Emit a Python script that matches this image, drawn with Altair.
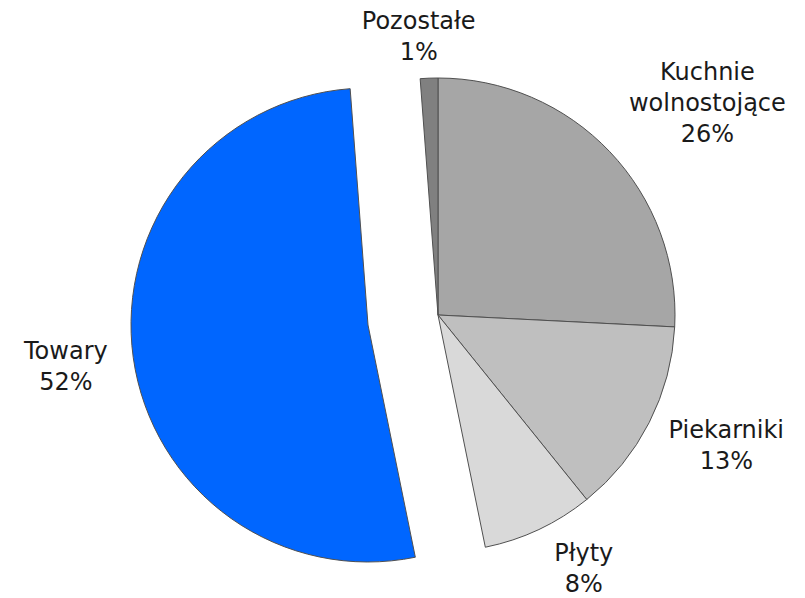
import altair as alt
import pandas as pd

categories = ["Kuchnie wolnostojące", "Piekarniki", "Płyty", "Towary", "Pozostałe"]
label_lines = [["Kuchnie", "wolnostojące", "26%"], ["Piekarniki", "13%"], ["Płyty", "8%"], ["Towary", "52%"], ["Pozostałe", "1%"]]
shares = [25.8, 13.4, 7.6, 52.0, 1.2]
colors = ["#a6a6a6", "#bfbfbf", "#d9d9d9", "#0066ff", "#808080"]

df = pd.DataFrame({
    "cat": categories,
    "value": shares,
    "idx": list(range(len(categories))),
    "label": label_lines,
})

CX, CY = 430, 307          # pie centre inside the plot area
R = 237                    # pie radius
EXPLODE = (-70, 10)        # offset of the exploded slice
EXPLODED = "Towary"
LABEL_R = 300
label_shift = {
    "Kuchnie wolnostojące": (52, -35),
    "Piekarniki": (21, -20),
    "Płyty": (18, -32),
    "Towary": (-5, -14),
    "Pozostałe": (-8, 7),
}

color_scale = alt.Scale(domain=categories, range=colors)

base = alt.Chart(df).encode(
    theta=alt.Theta("value:Q", stack=True),
    order=alt.Order("idx:Q"),
)

is_exp = f"datum.cat === '{EXPLODED}'"

arcs_main = base.mark_arc(radius=R, stroke="#505050", strokeWidth=1).encode(
    color=alt.Color("cat:N", scale=color_scale, legend=None),
    x=alt.value(CX), y=alt.value(CY),
    opacity=alt.condition(is_exp, alt.value(0), alt.value(1)),
)
arcs_exp = base.mark_arc(radius=R, stroke="#505050", strokeWidth=1).encode(
    color=alt.Color("cat:N", scale=color_scale, legend=None),
    x=alt.value(CX + EXPLODE[0]), y=alt.value(CY + EXPLODE[1]),
    opacity=alt.condition(is_exp, alt.value(1), alt.value(0)),
)

layers = [arcs_main, arcs_exp]
for c in categories:
    ox, oy = (EXPLODE if c == EXPLODED else (0, 0))
    sx, sy = label_shift[c]
    layers.append(
        base.mark_text(
            radius=LABEL_R, dx=sx, dy=sy,
            font="DejaVu Sans", fontSize=24, lineHeight=31,
            align="center", baseline="middle", color="#1a1a1a",
        ).encode(
            text="label",
            x=alt.value(CX + ox), y=alt.value(CY + oy),
            opacity=alt.condition(f"datum.cat === '{c}'", alt.value(1), alt.value(0)),
        )
    )

chart = alt.layer(*layers).properties(
    width=789, height=590,
    autosize=alt.AutoSizeParams(type="none"),
    padding=0,
).configure_view(stroke=None)

chart.save("out.html", embed_options={"renderer": "svg", "actions": False})
